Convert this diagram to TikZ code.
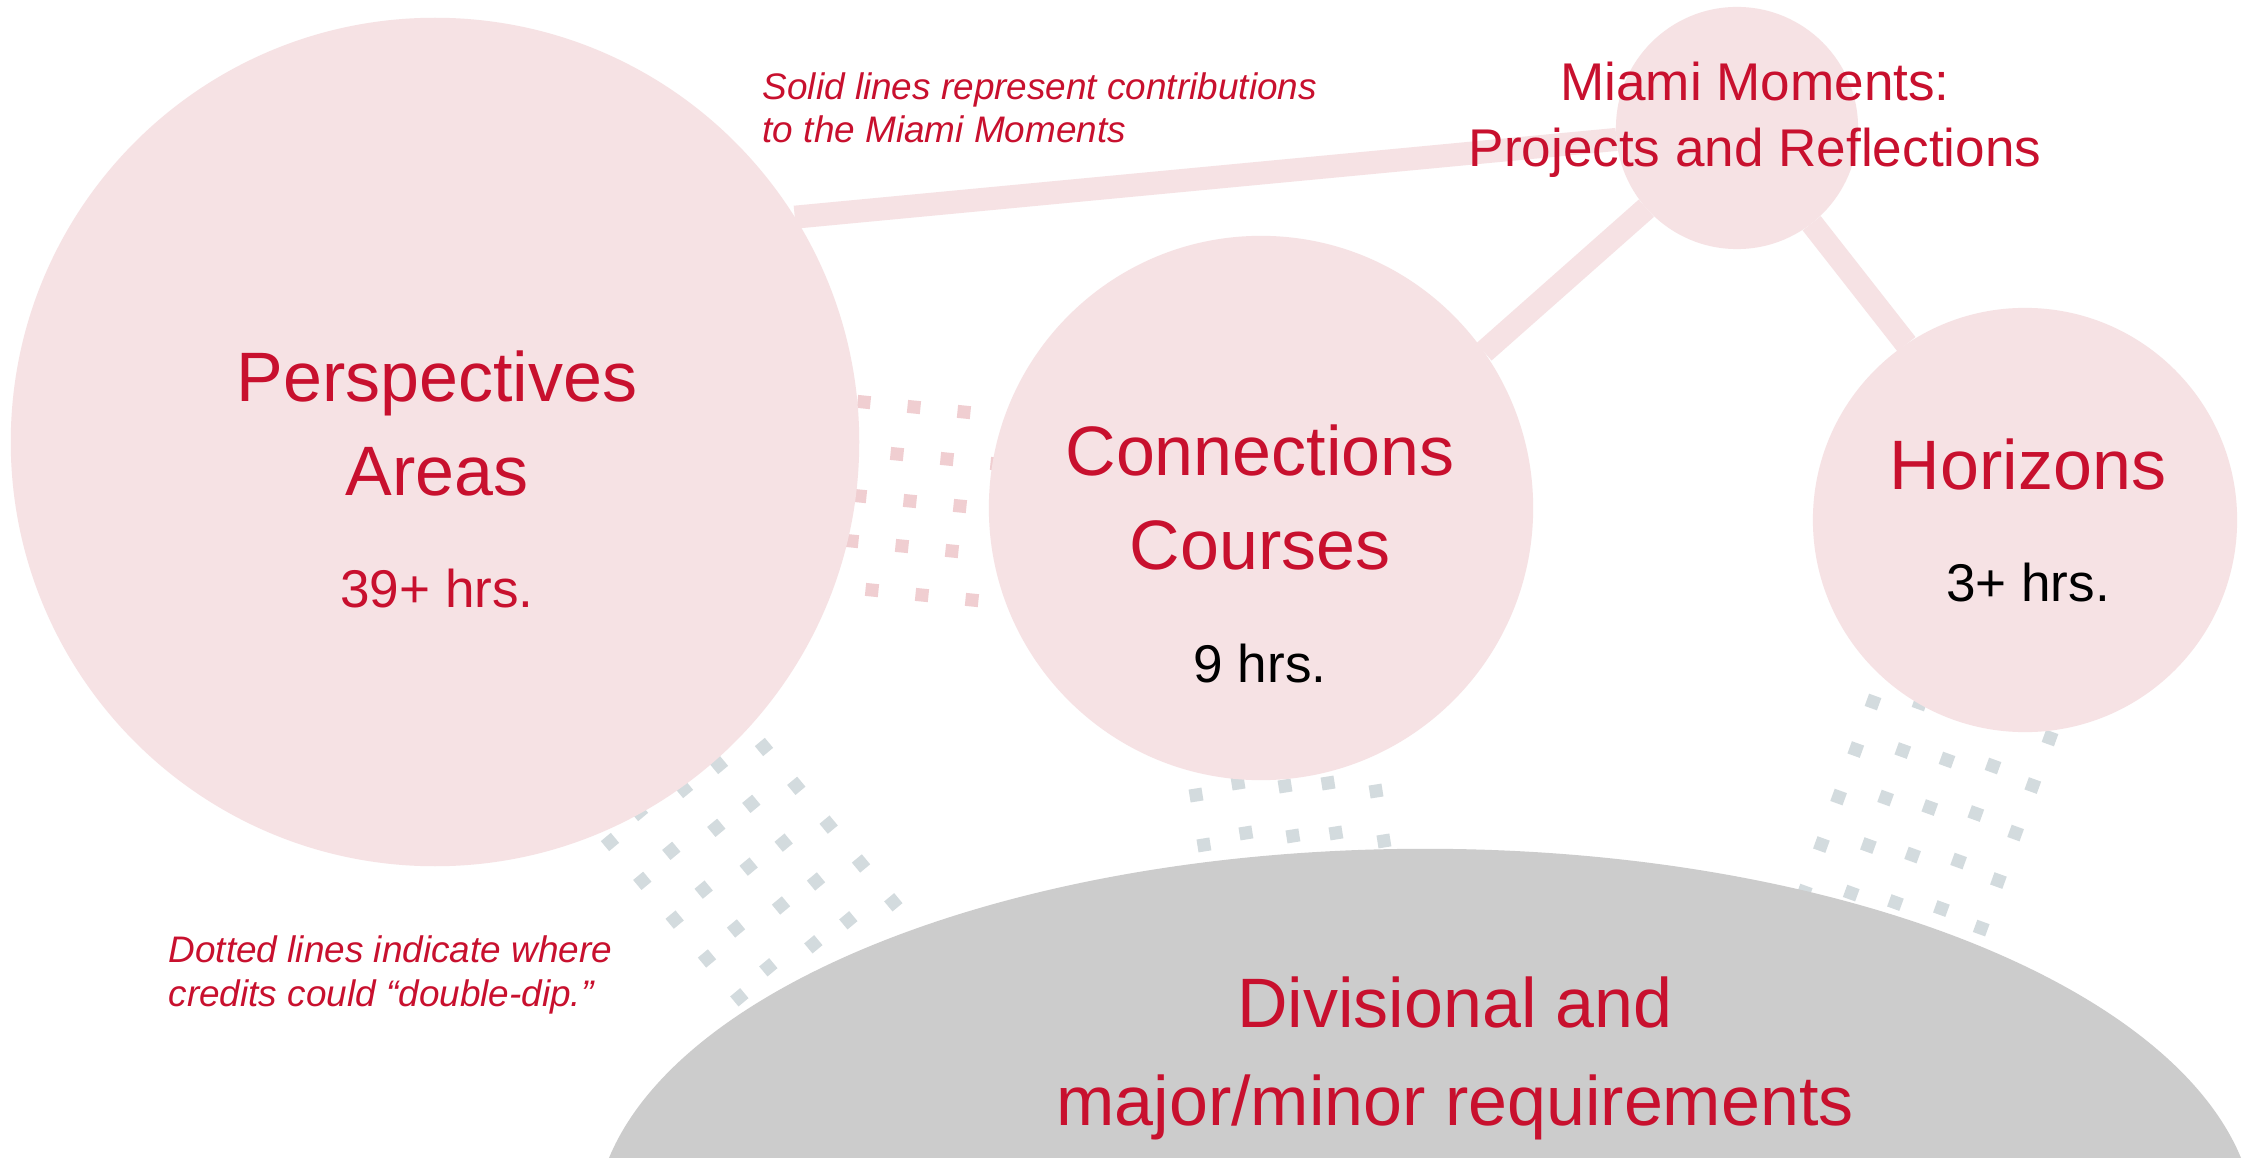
\documentclass[tikz,border=0pt]{standalone}
\usepackage{fontspec}
\setmainfont{Liberation Sans}
\usetikzlibrary{positioning,shapes.geometric}
\definecolor{mured}{RGB}{200,16,46}
\definecolor{circpink}{RGB}{246,226,228}
\definecolor{dotpink}{RGB}{240,206,209}
\definecolor{dotgrey}{RGB}{211,219,222}
\definecolor{reqgrey}{RGB}{204,204,204}
\tikzset{
  areacircle/.style={circle, fill=circpink, draw=none, inner sep=0pt, outer sep=0pt},
  reqellipse/.style={ellipse, fill=reqgrey, draw=none, inner sep=0pt, outer sep=0pt},
  titletext/.style={text=mured, font=\fontsize{19.9}{26.5}\selectfont, align=center,
                    inner sep=0pt, anchor=base},
  hrstext/.style={font=\fontsize{15.1}{18}\selectfont, inner sep=0pt, anchor=base},
  notetext/.style={text=mured, font=\fontsize{10.5}{12.4}\selectfont\itshape, align=left,
                   inner sep=0pt, anchor=base west},
  contrib/.style={draw=circpink, line width=2.3mm},
  pinkdip/.style={draw=dotpink, line width=1.3mm, dash pattern=on 1.3mm off 3.72mm},
  greydip/.style={draw=dotgrey, line width=1.3mm, dash pattern=on 1.3mm off 3.75mm}
}

\begin{document}
\begin{tikzpicture}[x=0.01cm, y=-0.01cm]
  \clip (0,0) rectangle (2249,1158);
  \fill[white] (0,0) rectangle (2249,1158);

  % Double-dip lines (under the circles)
  \foreach \sx/\sy in {864/402, 897/454, 860/496, 852/541, 872/590}
    \draw[pinkdip] (\sx-6.5,\sy-0.6) -- ++(5.7:160);
  \foreach \sx/\sy in {610/842, 639/812, 684/789, 719/765, 764/747}
    \draw[greydip] (\sx-4.2,\sy-5) -- ++(50.2:320);
  \foreach \sx/\sy in {1196/795, 1238/783, 1285/786, 1328/783, 1376/791}
    \draw[greydip] (\sx-1,\sy-6.4) -- ++(81:150);
  \foreach \sx/\sy in {1873/702, 1920/703, 1947/760, 1993/766, 2050/738}
    \draw[greydip] (\sx+2.2,\sy-6.1) -- ++(109.9:300);

  % Circles
  \node[areacircle, minimum size=8.48cm] (persp) at (435,442) {};
  \node[areacircle, minimum size=5.44cm] (conn) at (1261,508) {};
  \node[areacircle, minimum size=4.24cm] (hor) at (2025,520) {};
  \node[areacircle, minimum size=2.42cm] (miami) at (1737,128) {};
  \node[reqellipse, minimum width=16.6cm, minimum height=7.6cm] (req) at (1425,1229) {};

  % Contributions to the Miami Moments
  \draw[contrib] (persp.32) -- (miami);
  \draw[contrib] (conn.35) -- (miami);
  \draw[contrib] (hor.124) -- (miami);

  % Labels (base = last line)
  \node[titletext] (perspT) at (437,495) {Perspectives\\Areas};
  \node[hrstext, text=mured] (perspH) at (437,607) {39+ hrs.};
  \node[titletext] (connT) at (1260,569) {Connections\\Courses};
  \node[hrstext] (connH) at (1260,682) {9 hrs.};
  \node[titletext] (horT) at (2028,489) {Horizons};
  \node[hrstext] (horH) at (2028,601) {3+ hrs.};
  \node[titletext, font=\fontsize{15.1}{19}\selectfont] (miamiT) at (1755,167)
       {Miami Moments:\\Projects and Reflections};
  \node[titletext, font=\fontsize{19.9}{27.6}\selectfont] (reqT) at (1455,1125)
       {Divisional and\\major/minor requirements};
  \node[notetext] (solidN) at (762,143)
       {Solid lines represent contributions\\to the Miami Moments};
  \node[notetext] (dottedN) at (168,1006)
       {Dotted lines indicate where\\credits could “double-dip.”};
\end{tikzpicture}
\end{document}
